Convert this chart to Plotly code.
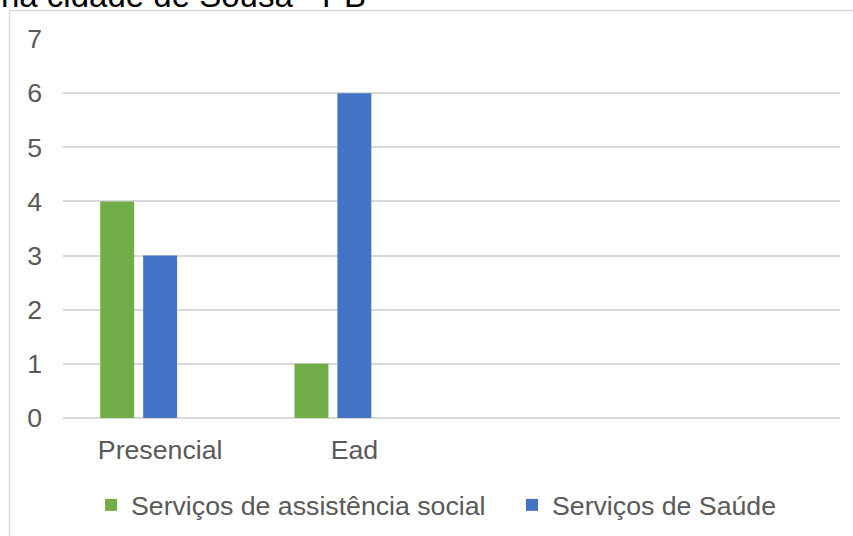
import plotly.graph_objects as go

categories = ["Presencial", "Ead"]
assistencia_social = [4, 1]
saude = [3, 6]
terceira_serie = [None, None]
y_ticks = [0, 1, 2, 3, 4, 5, 6, 7]
title_text = "na cidade de Sousa - PB"

W, H = 853, 536
L, R, T, B = 63, 13, 39, 118
pw, ph = W - L - R, H - T - B

def px_to_paper_x(px):
    return (px - L) / pw

def px_to_paper_y(py):
    return (H - B - py) / ph

fig = go.Figure()
fig.add_trace(go.Bar(x=categories, y=assistencia_social, name="Serviços de assistência social",
                     marker=dict(color="#70AD47", line=dict(width=0)), legend="legend"))
fig.add_trace(go.Bar(x=categories, y=saude, name="Serviços de Saúde",
                     marker=dict(color="#4472C4", line=dict(width=0)), legend="legend2"))
fig.add_trace(go.Bar(x=categories, y=terceira_serie, name="", showlegend=False,
                     marker=dict(color="rgba(0,0,0,0)", line=dict(width=0))))

font_family = "Liberation Sans, Arial, sans-serif"
FS = 26.7
legend_common = dict(orientation="h", xanchor="left", yanchor="middle",
                     font=dict(size=FS, color="#595959"), itemclick=False,
                     bgcolor="rgba(0,0,0,0)", borderwidth=0)

fig.update_layout(
    width=W, height=H,
    margin=dict(l=L, r=R, t=T, b=B, pad=0, autoexpand=False),
    paper_bgcolor="white", plot_bgcolor="white",
    barmode="group", bargap=0.337, bargroupgap=0.21,
    font=dict(family=font_family, size=FS, color="#595959"),
    showlegend=True,
    legend=dict(x=px_to_paper_x(91), y=px_to_paper_y(505), **legend_common),
    legend2=dict(x=px_to_paper_x(512), y=px_to_paper_y(505), **legend_common),
    xaxis=dict(type="category", range=[-0.5, 3.5], showgrid=False, zeroline=False,
               showline=False, ticks="", tickfont=dict(size=FS, color="#595959"),
               ticklabelstandoff=13, fixedrange=True),
    yaxis=dict(range=[0, 7], tickvals=y_ticks, showgrid=True, gridcolor="#d9d9d9",
               gridwidth=1.5, zeroline=True, zerolinecolor="#d9d9d9", zerolinewidth=1.5,
               showline=False, ticks="", tickfont=dict(size=FS, color="#595959"),
               ticklabelstandoff=20, fixedrange=True),
    shapes=[
        dict(type="line", xref="paper", yref="paper",
             x0=px_to_paper_x(9.5), x1=px_to_paper_x(9.5),
             y0=px_to_paper_y(560), y1=px_to_paper_y(10.5),
             line=dict(color="#d9d9d9", width=1.5), layer="below"),
        dict(type="line", xref="paper", yref="paper",
             x0=px_to_paper_x(9.5), x1=px_to_paper_x(870),
             y0=px_to_paper_y(10.5), y1=px_to_paper_y(10.5),
             line=dict(color="#d9d9d9", width=1.5), layer="below"),
    ],
    annotations=[dict(text=title_text, xref="paper", yref="paper",
                      x=px_to_paper_x(-1), xanchor="left",
                      y=px_to_paper_y(16), yanchor="bottom", showarrow=False,
                      font=dict(size=33, color="#000000", family=font_family))],
)

fig.write_html("out.html", config={"displayModeBar": False},
               post_script="document.body.style.margin='0';")
